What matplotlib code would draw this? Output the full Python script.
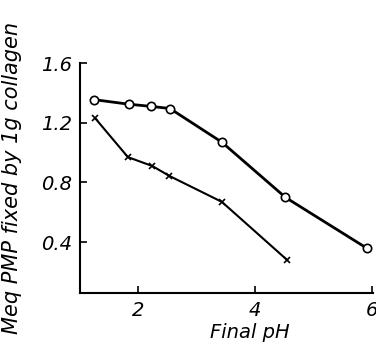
import matplotlib.pyplot as plt

ph_circ = [1.23, 1.83, 2.22, 2.54, 3.43, 4.52, 5.92]
meq_circ = [1.356, 1.325, 1.31, 1.296, 1.07, 0.70, 0.358]

ph_cross = [1.26, 1.82, 2.24, 2.53, 3.43, 4.55]
meq_cross = [1.23, 0.97, 0.91, 0.844, 0.67, 0.28]

xticks = [2, 4, 6]
yticks = [0.4, 0.8, 1.2, 1.6]

plt.rcParams['font.family'] = 'DejaVu Sans'
plt.rcParams['font.style'] = 'italic'

fig = plt.figure(figsize=(3.76, 3.47), dpi=100)
ax = fig.add_axes([0.213, 0.156, 0.779, 0.662])

ax.plot(ph_circ, meq_circ, color='k', lw=2, marker='o', ms=6,
        mfc='white', mec='k', mew=1.2)
ax.plot(ph_cross, meq_cross, color='k', lw=1.5, marker='x', ms=5, mew=1.2)

ax.set_xlim(1.0, 6.02)
ax.set_ylim(0.06, 1.6)
ax.set_xticks(xticks)
ax.set_yticks(yticks)
ax.set_xticklabels([str(t) for t in xticks])
ax.set_yticklabels(['%.1f' % t for t in yticks])
ax.tick_params(direction='in', length=5, width=1.2, labelsize=14, pad=6)
for lab in ax.get_xticklabels() + ax.get_yticklabels():
    lab.set_fontstyle('italic')

for s in ['top', 'right']:
    ax.spines[s].set_visible(False)
for s in ['left', 'bottom']:
    ax.spines[s].set_linewidth(1.5)

ax.set_xlabel('Final pH', fontsize=14, style='italic')
ax.xaxis.set_label_coords(0.58, -0.13)
ax.set_ylabel('Meq PMP fixed by 1g collagen', fontsize=15, style='italic')
ax.yaxis.set_label_coords(-0.2, 0.5)

fig.savefig('out.png', dpi=100)
